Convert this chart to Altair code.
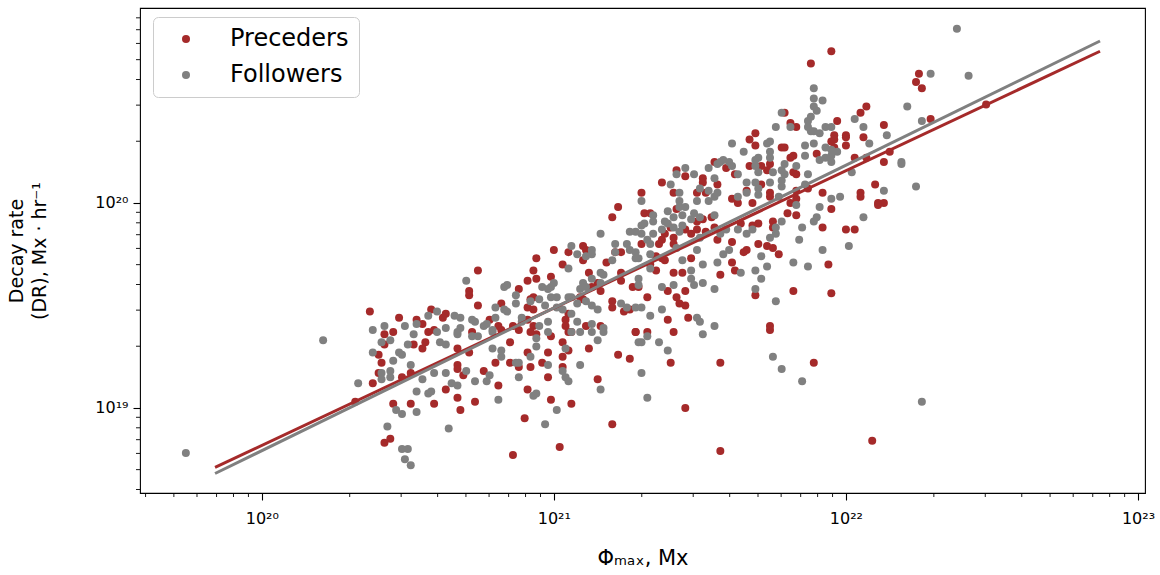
import math
import altair as alt
import pandas as pd

# log10 of (Phi_max [Mx], decay rate [Mx/hr])
preceders_log = [
    (20.32, 19.03), (20.37, 19.47), (20.38, 19.12), (20.40, 19.17), (20.41, 19.22), (20.42, 19.36),
    (20.45, 19.37), (20.42, 19.31), (20.45, 19.02), (20.51, 19.02), (20.42, 18.83), (20.44, 18.85),
    (20.48, 19.15), (20.51, 19.17), (20.52, 19.31), (20.47, 19.44), (20.53, 19.43), (20.55, 19.41),
    (20.58, 19.48), (20.57, 19.37), (20.59, 19.38), (20.40, 19.26),
    (20.86, 18.77), (21.02, 18.81), (20.90, 18.95), (21.20, 18.92), (21.06, 19.02), (20.99, 19.04),
    (20.91, 19.09), (20.81, 19.11), (20.73, 19.03), (20.68, 18.99), (20.67, 19.05), (20.59, 19.02),
    (20.63, 19.09), (20.76, 19.18), (20.69, 19.16), (20.67, 19.21), (20.67, 19.19), (20.80, 19.22),
    (20.85, 19.22), (20.88, 19.20), (20.92, 19.20), (20.91, 19.27), (20.96, 19.22), (20.98, 19.27),
    (20.98, 19.15), (21.03, 19.20), (21.03, 19.25), (21.03, 19.32), (21.05, 19.28), (20.99, 19.35),
    (20.94, 19.36), (21.12, 19.29), (21.15, 19.14), (21.22, 19.26), (21.26, 19.24), (21.06, 19.37),
    (21.28, 19.37), (20.85, 19.32), (20.71, 19.27), (20.67, 19.29), (20.56, 19.32), (20.55, 19.29),
    (22.09, 18.84), (21.89, 19.22), (21.57, 19.22), (21.40, 19.22), (21.45, 19.00), (21.57, 18.79),
    (21.41, 19.37), (21.74, 19.38),
    (21.00, 19.77), (21.05, 19.76), (20.94, 19.73), (21.03, 19.70), (20.74, 19.67), (20.93, 19.67),
    (20.91, 19.62), (20.94, 19.63), (20.99, 19.64), (20.71, 19.57), (20.71, 19.55), (20.88, 19.58),
    (20.74, 19.50), (20.92, 19.53), (20.93, 19.54), (20.82, 19.51), (20.91, 19.49), (20.93, 19.48),
    (21.05, 19.46), (21.04, 19.43), (20.63, 19.46), (20.62, 19.44), (20.78, 19.43), (20.81, 19.40),
    (20.82, 19.38), (20.86, 19.40), (20.88, 19.38), (20.91, 19.43), (20.93, 19.40), (20.92, 19.37),
    (21.04, 19.40), (21.05, 19.37), (20.72, 19.37),
    (21.30, 20.05), (21.41, 20.05), (21.49, 20.05), (21.52, 20.05), (21.22, 19.98), (21.20, 19.93),
    (21.31, 19.95), (21.33, 19.95), (21.42, 19.97), (21.49, 19.91), (21.51, 19.92), (21.54, 19.93),
    (21.40, 19.88), (21.38, 19.85), (21.45, 19.87), (21.47, 19.85), (21.49, 19.87), (21.52, 19.86),
    (21.55, 19.88), (21.37, 19.82), (21.36, 19.80), (21.41, 19.83), (21.41, 19.80), (21.56, 19.82),
    (21.10, 19.79), (21.11, 19.77), (21.21, 19.76), (21.23, 19.76), (21.30, 19.80), (21.35, 19.74),
    (21.37, 19.73), (21.38, 19.72), (21.18, 19.71), (21.10, 19.72), (21.12, 19.66), (21.23, 19.66),
    (21.33, 19.70), (21.35, 19.67), (21.41, 19.66), (21.44, 19.66), (21.47, 19.73), (21.15, 19.61),
    (21.13, 19.59), (21.16, 19.57), (21.23, 19.62), (21.27, 19.59), (21.29, 19.59), (21.32, 19.54),
    (21.39, 19.57), (21.45, 19.57), (21.42, 19.54), (21.09, 19.54), (21.10, 19.53), (21.20, 19.52),
    (21.20, 19.49), (21.24, 19.47), (21.26, 19.48), (21.43, 19.51), (21.45, 19.50), (21.46, 19.44),
    (21.39, 19.43), (21.28, 19.37), (21.32, 19.37), (21.11, 19.40), (21.16, 19.40),
    (21.95, 20.74), (21.88, 20.68), (21.79, 20.44), (21.81, 20.39), (21.83, 20.37), (21.97, 20.40),
    (21.96, 20.33), (21.96, 20.31), (22.00, 20.33), (22.00, 20.32), (22.05, 20.44), (22.07, 20.47),
    (22.06, 20.32), (21.69, 20.34), (21.67, 20.31), (21.69, 20.28), (21.78, 20.27), (21.79, 20.27),
    (21.95, 20.30), (21.96, 20.27), (22.00, 20.28), (21.81, 20.22), (21.82, 20.23), (21.90, 20.24),
    (22.03, 20.22), (22.07, 20.22), (21.67, 20.18), (21.71, 20.18), (21.74, 20.19), (21.73, 20.16),
    (21.82, 20.15), (21.83, 20.14), (21.59, 20.17), (21.62, 20.14), (21.66, 20.06), (21.71, 20.09),
    (21.74, 20.05), (21.83, 20.06), (21.87, 20.07), (21.92, 20.05), (22.10, 20.09), (22.05, 20.05),
    (21.55, 20.20), (21.42, 20.16), (21.45, 20.13), (21.51, 20.12), (21.51, 20.10), (21.37, 20.10),
    (21.56, 20.09),
    (22.05, 20.03), (22.11, 20.00), (21.95, 19.97), (22.00, 19.87), (22.03, 19.87), (21.92, 19.88),
    (21.94, 19.70), (21.95, 19.56), (21.82, 19.57), (21.74, 19.40), (21.69, 19.55), (21.61, 19.71),
    (21.62, 19.67), (21.57, 19.65), (21.77, 19.75), (21.75, 19.78), (21.73, 19.79), (21.70, 19.80),
    (21.66, 19.77), (21.65, 19.76), (21.61, 19.81), (21.75, 19.91), (21.75, 19.88), (21.70, 19.90),
    (21.68, 19.89), (21.64, 19.90), (21.63, 20.00), (21.61, 20.02), (21.68, 20.00), (21.74, 20.03),
    (21.80, 19.95), (21.83, 19.94), (21.81, 20.00), (21.83, 20.02),
    (22.25, 20.63), (22.24, 20.59), (22.26, 20.56), (22.29, 20.41), (22.48, 20.48), (22.13, 20.38),
    (22.15, 20.25), (22.13, 20.20), (22.13, 20.00), (22.11, 19.99),
]

followers_log = [
    (19.74, 18.78), (20.21, 19.33), (20.33, 19.12), (20.38, 19.27), (20.38, 19.38), (20.42, 19.40),
    (20.41, 19.32), (20.44, 19.33), (20.47, 19.27), (20.48, 19.26), (20.50, 19.31), (20.51, 19.21),
    (20.41, 19.17), (20.41, 19.14), (20.44, 19.18), (20.44, 19.15), (20.43, 18.91), (20.46, 18.99),
    (20.48, 18.97), (20.53, 18.98), (20.53, 19.08), (20.48, 18.80), (20.50, 18.80), (20.49, 18.75),
    (20.51, 18.72), (20.45, 19.23), (20.49, 19.40), (20.57, 19.45), (20.60, 19.47), (20.53, 19.41),
    (20.52, 19.36), (20.60, 19.37),
    (20.97, 18.92), (20.64, 18.90), (21.01, 18.99), (20.93, 19.06), (20.94, 19.07), (20.81, 19.04),
    (20.65, 19.12), (20.67, 19.11), (20.57, 19.07), (20.58, 19.08), (20.59, 19.17), (20.55, 19.14),
    (20.73, 19.13), (20.77, 19.13), (20.78, 19.16), (20.70, 19.18), (20.63, 19.17), (20.79, 19.29),
    (20.82, 19.28), (20.82, 19.25), (20.87, 19.22), (20.88, 19.22), (20.88, 19.15), (20.92, 19.25),
    (20.98, 19.21), (21.03, 19.18), (21.04, 19.15), (21.05, 19.13), (21.04, 19.29), (20.94, 19.34),
    (20.94, 19.30), (21.09, 19.21), (21.16, 19.09), (21.15, 19.33), (21.09, 19.37), (21.13, 19.37),
    (21.17, 19.37), (21.29, 19.32), (20.72, 19.35), (20.74, 19.35), (20.63, 19.31), (20.61, 19.32),
    (20.67, 19.36),
    (21.75, 19.25), (21.78, 19.19), (21.85, 19.13), (21.32, 19.05), (21.30, 19.17), (21.36, 19.32),
    (21.32, 19.35), (21.30, 19.32), (21.39, 19.28), (21.51, 19.36), (22.26, 19.03),
    (21.06, 19.79), (21.08, 19.75), (21.05, 19.68), (20.70, 19.62), (20.84, 19.60), (20.83, 19.59),
    (20.96, 19.59), (20.98, 19.58), (21.00, 19.61), (20.99, 19.59), (20.87, 19.55), (20.87, 19.51),
    (20.92, 19.52), (20.80, 19.49), (20.95, 19.53), (20.99, 19.54), (21.01, 19.54), (20.97, 19.50),
    (21.01, 19.49), (21.05, 19.54), (21.06, 19.54), (21.08, 19.51), (21.03, 19.48), (21.06, 19.46),
    (20.98, 19.42), (21.08, 19.42), (20.66, 19.45), (20.68, 19.44), (20.72, 19.43), (20.73, 19.42),
    (20.76, 19.40), (20.77, 19.41), (20.80, 19.44), (20.83, 19.48), (20.84, 19.47), (20.79, 19.38),
    (20.79, 19.37), (20.89, 19.44), (20.89, 19.42), (20.95, 19.40), (20.98, 19.37), (21.06, 19.37),
    (20.68, 19.39), (20.67, 19.37), (20.63, 19.39),
    (21.43, 20.05), (21.43, 20.01), (21.30, 20.01), (21.49, 20.01), (21.53, 20.01), (21.55, 20.03),
    (21.34, 19.94), (21.34, 19.91), (21.39, 19.96), (21.41, 19.93), (21.39, 19.90), (21.38, 19.91),
    (21.43, 19.98), (21.45, 19.98), (21.44, 19.94), (21.48, 19.95), (21.47, 19.92), (21.50, 19.93),
    (21.55, 19.94), (21.31, 19.90), (21.30, 19.89), (21.26, 19.86), (21.28, 19.86), (21.30, 19.85),
    (21.16, 19.85), (21.34, 19.85), (21.37, 19.87), (21.41, 19.88), (21.43, 19.86), (21.44, 19.89),
    (21.50, 19.83), (21.21, 19.80), (21.25, 19.80), (21.32, 19.82), (21.33, 19.80), (21.42, 19.78),
    (21.49, 19.77), (21.13, 19.77), (21.13, 19.75), (21.21, 19.76), (21.26, 19.77), (21.28, 19.76),
    (21.28, 19.73), (21.29, 19.73), (21.33, 19.75), (21.44, 19.72), (21.20, 19.72), (21.11, 19.74),
    (21.16, 19.66), (21.17, 19.65), (21.13, 19.63), (21.29, 19.63), (21.33, 19.68), (21.47, 19.67),
    (21.51, 19.70), (21.56, 19.71), (21.10, 19.61), (21.11, 19.59), (21.09, 19.58), (21.16, 19.61),
    (21.29, 19.60), (21.37, 19.59), (21.41, 19.60), (21.47, 19.63), (21.48, 19.60), (21.51, 19.61),
    (21.55, 19.58), (21.11, 19.52), (21.13, 19.50), (21.15, 19.48), (21.23, 19.51), (21.25, 19.49),
    (21.28, 19.49), (21.30, 19.49), (21.33, 19.45), (21.37, 19.48), (21.49, 19.44), (21.50, 19.42),
    (21.55, 19.40), (21.13, 19.41), (21.17, 19.39),
    (21.89, 20.56), (21.89, 20.51), (21.92, 20.50), (21.89, 20.47), (21.90, 20.45), (21.88, 20.42),
    (21.87, 20.40), (21.78, 20.44), (21.81, 20.37), (21.76, 20.37), (21.87, 20.37), (21.88, 20.35),
    (21.89, 20.35), (21.91, 20.34), (21.93, 20.37), (21.95, 20.37), (22.03, 20.41), (22.06, 20.37),
    (22.08, 20.29), (21.61, 20.29), (21.65, 20.25), (21.73, 20.29), (21.74, 20.30), (21.86, 20.28),
    (21.89, 20.29), (21.93, 20.27), (21.95, 20.26), (21.74, 20.25), (21.74, 20.22), (21.70, 20.22),
    (21.69, 20.21), (21.86, 20.23), (21.83, 20.18), (21.91, 20.21), (21.93, 20.22), (21.95, 20.23),
    (21.95, 20.20), (21.97, 20.25), (22.02, 20.15), (21.58, 20.21), (21.60, 20.20), (21.61, 20.18),
    (21.69, 20.18), (21.70, 20.15), (21.75, 20.15), (21.79, 20.19), (21.78, 20.16), (21.79, 20.14),
    (21.87, 20.14), (21.63, 20.14), (21.66, 20.10), (21.69, 20.10), (21.70, 20.07), (21.74, 20.10),
    (21.78, 20.11), (21.78, 20.08), (21.86, 20.09), (21.57, 20.20),
    (21.56, 20.19), (21.53, 20.17), (21.45, 20.17), (21.42, 20.14), (21.48, 20.14), (21.55, 20.12),
    (21.40, 20.09), (21.50, 20.07), (21.53, 20.06), (21.56, 20.05),
    (21.95, 20.02), (21.98, 20.03), (21.91, 19.98), (21.90, 19.93), (21.89, 19.91), (22.06, 19.93),
    (22.01, 19.79), (21.85, 19.88), (21.84, 19.82), (21.92, 19.77), (21.87, 19.69), (21.82, 19.71),
    (21.76, 19.52), (21.69, 19.58), (21.71, 19.63), (21.73, 19.69), (21.71, 19.74), (21.69, 19.67),
    (21.64, 19.66), (21.60, 19.77), (21.58, 19.75), (21.76, 19.85), (21.76, 19.88), (21.74, 19.83),
    (21.78, 19.91), (21.63, 19.87), (21.66, 19.85), (21.68, 19.87), (21.57, 19.85), (21.59, 19.87),
    (21.63, 20.03), (21.66, 20.05), (21.70, 20.04), (21.77, 20.03), (21.83, 19.99),
    (22.14, 20.33), (22.21, 20.47), (22.26, 20.40), (22.29, 20.63), (22.42, 20.62), (22.38, 20.85),
    (22.19, 20.20), (22.19, 20.19), (22.13, 20.06), (22.24, 20.08),
]

# fitted power-law lines (log10 endpoints)
fit_phi_log = [19.84, 22.87]
fit_pre_log = [18.71, 20.74]
fit_fol_log = [18.68, 20.79]

series_names = ["Preceders", "Followers"]
series_colors = ["#a52a2a", "#808080"]

x_domain_log = [19.583, 23.024]
y_domain_log = [18.585, 20.951]
x_major = [1e20, 1e21, 1e22, 1e23]
y_major = [1e19, 1e20]
x_minor = [m * 10.0 ** e for e in (19, 20, 21, 22) for m in range(2, 10)
           if x_domain_log[0] < e + math.log10(m) < x_domain_log[1]]
y_minor = [m * 10.0 ** e for e in (18, 19, 20) for m in range(2, 10)
           if y_domain_log[0] < e + math.log10(m) < y_domain_log[1]]

rows = []
for name, pts in ((series_names[0], preceders_log), (series_names[1], followers_log)):
    for a, b in pts:
        rows.append({"series": name, "phi": 10.0 ** a, "dr": 10.0 ** b, "order": len(rows)})
pts_df = pd.DataFrame(rows)

fit_pre = pd.DataFrame({"phi": [10.0 ** v for v in fit_phi_log], "dr": [10.0 ** v for v in fit_pre_log]})
fit_fol = pd.DataFrame({"phi": [10.0 ** v for v in fit_phi_log], "dr": [10.0 ** v for v in fit_fol_log]})

W, H = 1005, 485
FONT = "DejaVu Sans"

xscale = alt.Scale(type="log", domain=[10.0 ** x_domain_log[0], 10.0 ** x_domain_log[1]], nice=False)
yscale = alt.Scale(type="log", domain=[10.0 ** y_domain_log[0], 10.0 ** y_domain_log[1]], nice=False)

x_label_expr = ("datum.value < 5e20 ? '10²⁰' : datum.value < 5e21 ? '10²¹' : "
                "datum.value < 5e22 ? '10²²' : '10²³'")
y_label_expr = "datum.value < 5e19 ? '10¹⁹' : '10²⁰'"

x_enc = alt.X("phi:Q", scale=xscale, axis=alt.Axis(
    values=x_major, labelExpr=x_label_expr, title="Φₘₐₓ, Mx",
    tickSize=7, tickWidth=1.1, tickColor="black", labelPadding=10, labelFontSize=16,
    titleFontSize=21, titleY=65, titleBaseline="middle", grid=False, domain=False,
    labelColor="black", titleColor="black", titleFontWeight="normal"))
y_enc = alt.Y("dr:Q", scale=yscale, axis=alt.Axis(
    values=y_major, labelExpr=y_label_expr, title=["Decay rate", "(DR), Mx · hr⁻¹"],
    tickSize=7, tickWidth=1.1, tickColor="black", labelPadding=5, labelFontSize=16,
    titleFontSize=19, titleLineHeight=23, grid=False, domain=False,
    titleX=-133, titleY=H / 2, titleAngle=270, titleAlign="center", titleBaseline="top",
    labelColor="black", titleColor="black", titleFontWeight="normal"))

points = alt.Chart(pts_df).mark_circle(size=64, opacity=1).encode(
    x=x_enc,
    y=y_enc,
    color=alt.Color("series:N", scale=alt.Scale(domain=series_names, range=series_colors),
                    legend=alt.Legend(title=None, orient="none", legendX=13, legendY=9,
                                      labelFontSize=24, labelFont=FONT, labelColor="black",
                                      symbolSize=64, symbolType="circle", symbolOffset=11,
                                      labelOffset=32, rowPadding=12, padding=10,
                                      fillColor="white", strokeColor="#cccccc",
                                      cornerRadius=5, symbolStrokeWidth=0)),
    order=alt.Order("order:Q"),
)

line_pre = alt.Chart(fit_pre).mark_line(color=series_colors[0], strokeWidth=3).encode(
    x=alt.X("phi:Q", scale=xscale), y=alt.Y("dr:Q", scale=yscale))
line_fol = alt.Chart(fit_fol).mark_line(color=series_colors[1], strokeWidth=3).encode(
    x=alt.X("phi:Q", scale=xscale), y=alt.Y("dr:Q", scale=yscale))

xminor_df = pd.DataFrame({"phi": x_minor})
yminor_df = pd.DataFrame({"dr": y_minor})
x_minor_ticks = alt.Chart(xminor_df).mark_rule(color="black", strokeWidth=0.9).encode(
    x=alt.X("phi:Q", scale=xscale), y=alt.value(H), y2=alt.value(H + 4))
y_minor_ticks = alt.Chart(yminor_df).mark_rule(color="black", strokeWidth=0.9).encode(
    y=alt.Y("dr:Q", scale=yscale), x=alt.value(0), x2=alt.value(-4))

chart = alt.layer(points, line_pre, line_fol, x_minor_ticks, y_minor_ticks).properties(
    width=W, height=H,
    padding={"left": 140, "top": 8, "right": 15, "bottom": 82},
    autosize=alt.AutoSizeParams(type="none"),
).configure(font=FONT).configure_view(stroke="black", strokeWidth=1.1).configure_axis(
    labelFont=FONT, titleFont=FONT)

chart.save("out.html", embed_options={"renderer": "svg", "actions": False})
